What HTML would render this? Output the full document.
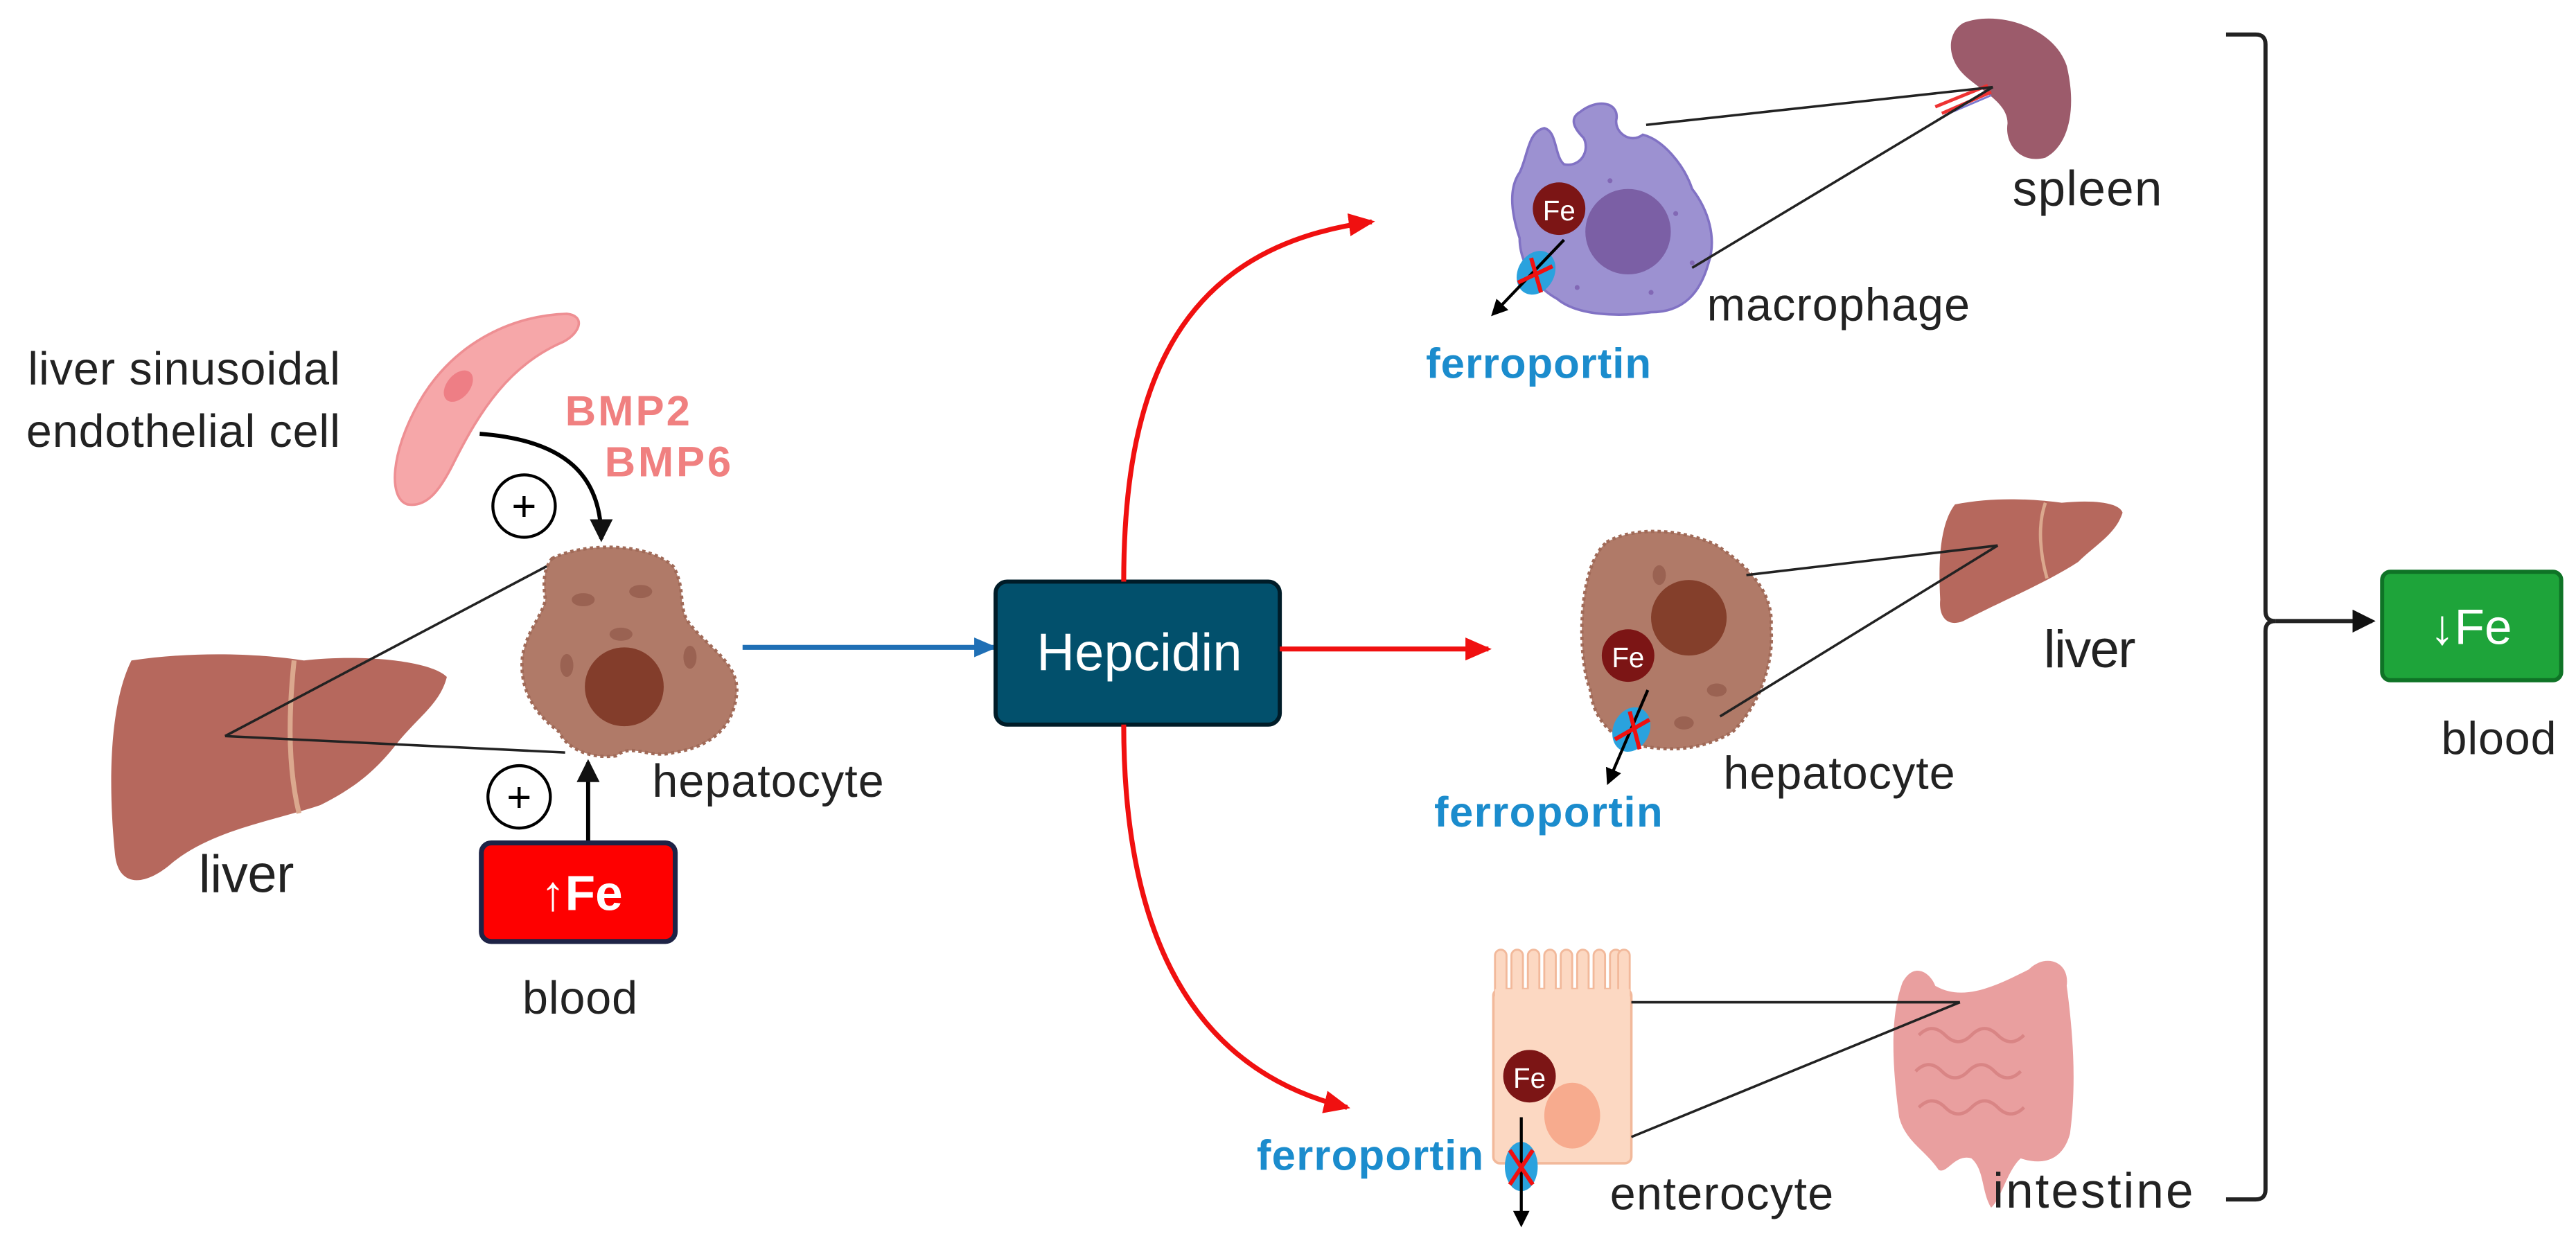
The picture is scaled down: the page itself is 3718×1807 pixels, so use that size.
<!DOCTYPE html>
<html><head><meta charset="utf-8"><style>
html,body{margin:0;padding:0;background:#fff;}
svg{display:block;}
text{font-family:"Liberation Sans",sans-serif;}
</style></head><body>
<svg width="3718" height="1807" viewBox="0 0 1568 762" preserveAspectRatio="none" xmlns="http://www.w3.org/2000/svg">
<defs>
<marker id="ab" markerWidth="10" markerHeight="10" refX="8" refY="5" orient="auto" markerUnits="userSpaceOnUse"><path d="M0,0 L10,5 L0,10 z" fill="#000"/></marker>
<marker id="ar" markerWidth="16" markerHeight="14" refX="14" refY="7" orient="auto" markerUnits="userSpaceOnUse"><path d="M0,0 L16,7 L0,14 z" fill="#f01010"/></marker>
<marker id="abl" markerWidth="14" markerHeight="12" refX="12" refY="6" orient="auto" markerUnits="userSpaceOnUse"><path d="M0,0 L14,6 L0,12 z" fill="#1f6fb5"/></marker>
<marker id="abk" markerWidth="14" markerHeight="14" refX="12" refY="7" orient="auto" markerUnits="userSpaceOnUse"><path d="M0,0 L14,7 L0,14 z" fill="#111"/></marker>
</defs>

<!-- left texts -->
<text x="17" y="234" font-size="28" fill="#222" textLength="190">liver sinusoidal</text>
<text x="16" y="272" font-size="28" fill="#222" textLength="191">endothelial cell</text>
<!-- endothelial cell -->
<path d="M248,307 C236,303 238,275 255,245 C275,210 310,192 345,191 C356,192 354,202 343,208 C310,222 292,250 276,282 C268,298 260,309 248,307 z" fill="#f6a7a9" stroke="#ee8f93" stroke-width="1.5"/>
<ellipse cx="279" cy="235" rx="7" ry="11" transform="rotate(40 279 235)" fill="#ee7e85"/>
<text x="344" y="259" font-size="26" font-weight="bold" fill="#f08080" textLength="76">BMP2</text>
<text x="368" y="290" font-size="26" font-weight="bold" fill="#f08080" textLength="77">BMP6</text>
<path d="M292,264 C345,268 366,290 366,328" fill="none" stroke="#000" stroke-width="2.5" marker-end="url(#abk)"/>
<circle cx="319" cy="308" r="19" fill="#fff" stroke="#000" stroke-width="1.8"/>
<text x="319" y="317" font-size="26" text-anchor="middle">+</text>

<!-- left liver -->
<path d="M80,402 C120,396 160,398 185,402 C220,398 262,402 272,412 C268,428 255,436 242,452 C228,470 215,480 195,490 C165,500 130,505 105,525 C88,540 72,540 70,520 C66,480 66,430 80,402 z" fill="#b6685d"/>
<path d="M179,402 C175,440 176,470 182,495" stroke="#dba88e" stroke-width="3" fill="none"/>
<line x1="137" y1="448" x2="334" y2="344" stroke="#222" stroke-width="1.5"/>
<line x1="137" y1="448" x2="344" y2="458" stroke="#222" stroke-width="1.5"/>
<!-- hepatocyte -->
<path d="M336,340 C355,330 395,330 410,345 C418,360 412,370 420,380 C432,395 452,405 448,425 C445,445 430,455 410,458 C395,462 385,452 375,460 C360,462 345,456 340,445 C326,435 316,420 318,400 C320,385 330,375 332,365 C330,352 332,345 336,340 z" fill="#b07a68" stroke="#a06a58" stroke-width="2" stroke-dasharray="2 2"/>
<circle cx="380" cy="418" r="24" fill="#833d2b"/>
<ellipse cx="355" cy="365" rx="7" ry="4" fill="#9a6252"/>
<ellipse cx="390" cy="360" rx="7" ry="4" fill="#9a6252"/>
<ellipse cx="378" cy="386" rx="7" ry="4" fill="#9a6252"/>
<ellipse cx="420" cy="400" rx="4" ry="7" fill="#9a6252"/>
<ellipse cx="345" cy="405" rx="4" ry="7" fill="#9a6252"/>
<text x="397" y="485" font-size="28" fill="#222" textLength="141">hepatocyte</text>
<text x="121" y="543" font-size="32" fill="#222" textLength="58">liver</text>
<circle cx="316" cy="485" r="19" fill="#fff" stroke="#000" stroke-width="1.8"/>
<text x="316" y="494" font-size="26" text-anchor="middle">+</text>
<line x1="358" y1="512" x2="358" y2="464" stroke="#000" stroke-width="2.5" marker-end="url(#abk)"/>
<rect x="293" y="513" width="118" height="60" rx="6" fill="#fe0000" stroke="#1e2346" stroke-width="3"/>
<text x="354" y="554" font-size="30" font-weight="bold" fill="#fff" text-anchor="middle">↑Fe</text>
<text x="318" y="617" font-size="28" fill="#222" textLength="70">blood</text>

<!-- blue arrow -->
<line x1="452" y1="394" x2="605" y2="394" stroke="#1f6fb5" stroke-width="3" marker-end="url(#abl)"/>
<!-- Hepcidin -->
<rect x="606" y="354" width="173" height="87" rx="7" fill="#02506c" stroke="#001c28" stroke-width="2.5"/>
<text x="631" y="408" font-size="32" fill="#fff" textLength="125">Hepcidin</text>

<!-- red arrows -->
<path d="M684,354 C684,230 720,150 835,135" fill="none" stroke="#f01010" stroke-width="3" marker-end="url(#ar)"/>
<line x1="779" y1="395" x2="906" y2="395" stroke="#f01010" stroke-width="3" marker-end="url(#ar)"/>
<path d="M684,441 C684,560 720,650 820,674" fill="none" stroke="#f01010" stroke-width="3" marker-end="url(#ar)"/>

<!-- macrophage -->
<path d="M962,68 C972,60 985,62 984,72 C982,80 992,88 1000,82 C1012,85 1025,100 1030,115 C1040,128 1045,145 1040,160 C1035,178 1025,190 1005,190 C985,193 960,192 948,182 C935,175 925,160 925,145 C920,130 918,115 925,105 C930,95 930,80 940,78 C948,80 946,95 952,100 C962,102 968,92 964,84 C958,78 955,72 962,68 z" fill="#9c91d1" stroke="#8172c4" stroke-width="1.5"/>
<circle cx="991" cy="141" r="26" fill="#7b5fa5"/>
<g fill="#8268b5"><circle cx="980" cy="110" r="1.5"/><circle cx="1020" cy="130" r="1.5"/><circle cx="1030" cy="160" r="1.5"/><circle cx="960" cy="175" r="1.5"/><circle cx="1005" cy="178" r="1.5"/></g>
<circle cx="949" cy="127" r="16" fill="#7c1515"/>
<text x="949" y="134" font-size="17" fill="#fff" text-anchor="middle">Fe</text>
<ellipse cx="935" cy="166" rx="11" ry="14" transform="rotate(30 935 166)" fill="#2aa2de"/>
<line x1="952" y1="146" x2="909" y2="191" stroke="#000" stroke-width="1.8" marker-end="url(#ab)"/>
<path d="M924,172 L945,162 M932,157 L938,178" stroke="#f01010" stroke-width="2.5"/>
<text x="868" y="230" font-size="26" font-weight="bold" fill="#1b8ccd" textLength="137">ferroportin</text>
<text x="1039" y="195" font-size="28" fill="#222" textLength="160">macrophage</text>
<!-- spleen -->
<path d="M1195,14 C1215,6 1250,16 1258,40 C1264,65 1260,88 1245,96 C1230,100 1220,88 1222,75 C1222,62 1205,55 1195,45 C1185,35 1185,20 1195,14 z" fill="#9c5b6b"/>
<path d="M1178,65 L1210,52 M1182,69 L1212,56" stroke="#e33" stroke-width="2"/>
<path d="M1184,70 L1212,58" stroke="#7a7ad0" stroke-width="1.2"/>
<line x1="1002" y1="76" x2="1213" y2="53" stroke="#222" stroke-width="1.5"/>
<line x1="1030" y1="163" x2="1213" y2="53" stroke="#222" stroke-width="1.5"/>
<text x="1225" y="125" font-size="30" fill="#222" textLength="91">spleen</text>

<!-- middle hepatocyte -->
<path d="M978,330 C995,320 1025,322 1045,332 C1060,342 1080,358 1078,382 C1080,405 1070,430 1055,445 C1040,455 1020,458 1000,454 C985,452 970,440 968,420 C960,400 960,345 978,330 z" fill="#b07a68" stroke="#a06a58" stroke-width="2" stroke-dasharray="2 2"/>
<circle cx="1028" cy="376" r="23" fill="#843f2b"/>
<ellipse cx="1045" cy="420" rx="6" ry="4" fill="#9a6252"/>
<ellipse cx="1010" cy="350" rx="4" ry="6" fill="#9a6252"/>
<ellipse cx="1025" cy="440" rx="6" ry="4" fill="#9a6252"/>
<circle cx="991" cy="399" r="16" fill="#7c1515"/>
<text x="991" y="406" font-size="17" fill="#fff" text-anchor="middle">Fe</text>
<ellipse cx="993" cy="444" rx="11" ry="14" transform="rotate(25 993 444)" fill="#2aa2de"/>
<line x1="1003" y1="420" x2="979" y2="476" stroke="#000" stroke-width="1.8" marker-end="url(#ab)"/>
<path d="M983,450 L1004,438 M992,433 L998,456" stroke="#f01010" stroke-width="2.5"/>
<text x="873" y="503" font-size="26" font-weight="bold" fill="#1b8ccd" textLength="139">ferroportin</text>
<text x="1049" y="480" font-size="28" fill="#222" textLength="141">hepatocyte</text>
<!-- small liver -->
<path d="M1190,307 C1215,302 1240,304 1255,306 C1275,304 1290,306 1292,312 C1288,325 1275,332 1265,342 C1245,355 1220,365 1195,378 C1185,382 1180,375 1181,365 C1180,345 1180,320 1190,307 z" fill="#b6685d"/>
<path d="M1245,306 C1240,320 1242,338 1246,352" stroke="#dba88e" stroke-width="2" fill="none"/>
<line x1="1063" y1="350" x2="1216" y2="332" stroke="#222" stroke-width="1.5"/>
<line x1="1047" y1="436" x2="1216" y2="332" stroke="#222" stroke-width="1.5"/>
<text x="1244" y="406" font-size="32" fill="#222" textLength="56">liver</text>

<!-- enterocyte -->
<rect x="909" y="602" width="84" height="106" rx="4" fill="#fcd8c2" stroke="#f2b99b" stroke-width="1.5"/>
<g fill="#fcd8c2" stroke="#f2b99b" stroke-width="1.2">
<rect x="910" y="578" width="7" height="30" rx="3.5"/><rect x="920" y="578" width="7" height="30" rx="3.5"/><rect x="930" y="578" width="7" height="30" rx="3.5"/><rect x="940" y="578" width="7" height="30" rx="3.5"/><rect x="950" y="578" width="7" height="30" rx="3.5"/><rect x="960" y="578" width="7" height="30" rx="3.5"/><rect x="970" y="578" width="7" height="30" rx="3.5"/><rect x="980" y="578" width="7" height="30" rx="3.5"/><rect x="985" y="578" width="7" height="30" rx="3.5"/>
</g>
<rect x="910" y="602" width="82" height="8" fill="#fcd8c2"/>
<ellipse cx="957" cy="679" rx="17" ry="20" fill="#f7ab8e"/>
<circle cx="931" cy="655" r="16" fill="#7c1515"/>
<text x="931" y="662" font-size="17" fill="#fff" text-anchor="middle">Fe</text>
<ellipse cx="926" cy="710" rx="10" ry="15" fill="#2aa2de"/>
<line x1="926" y1="680" x2="926" y2="745" stroke="#000" stroke-width="1.8" marker-end="url(#ab)"/>
<path d="M919,700 L933,721 M933,700 L919,721" stroke="#f01010" stroke-width="2.5"/>
<text x="765" y="712" font-size="26" font-weight="bold" fill="#1b8ccd" textLength="138">ferroportin</text>
<text x="980" y="736" font-size="28" fill="#222" textLength="136">enterocyte</text>
<!-- intestine -->
<path d="M1158,598 C1165,585 1175,592 1178,600 C1195,610 1215,600 1235,590 C1245,580 1260,585 1258,600 C1262,630 1264,660 1260,690 C1256,705 1245,710 1230,705 C1222,712 1218,730 1212,735 C1206,725 1208,712 1200,705 C1190,702 1185,715 1180,712 C1172,700 1160,695 1156,680 C1152,650 1150,620 1158,598 z" fill="#e99f9f"/>
<g stroke="#d98585" stroke-width="2" fill="none"><path d="M1168,630 q8,-8 16,0 t16,0 t16,0 t16,0"/><path d="M1166,652 q8,-8 16,0 t16,0 t16,0 t16,0"/><path d="M1168,674 q8,-8 16,0 t16,0 t16,0 t16,0"/></g>
<line x1="993" y1="610" x2="1193" y2="610" stroke="#222" stroke-width="1.5"/>
<line x1="993" y1="692" x2="1193" y2="610" stroke="#222" stroke-width="1.5"/>
<text x="1213" y="735" font-size="30" fill="#222" textLength="122">intestine</text>

<!-- bracket -->
<path d="M1355,21 L1373,21 Q1379,21 1379,27 L1379,372 Q1379,378 1385,378 Q1379,378 1379,384 L1379,724 Q1379,730 1373,730 L1355,730" fill="none" stroke="#222" stroke-width="2.5"/>
<line x1="1385" y1="378" x2="1444" y2="378" stroke="#222" stroke-width="2.5" marker-end="url(#abk)"/>
<rect x="1450" y="348" width="109" height="66" rx="5" fill="#1ea43a" stroke="#0f7326" stroke-width="2.5"/>
<text x="1504" y="392" font-size="30" fill="#fff" text-anchor="middle">↓Fe</text>
<text x="1486" y="459" font-size="28" fill="#222" textLength="70">blood</text>
</svg>
</body></html>
